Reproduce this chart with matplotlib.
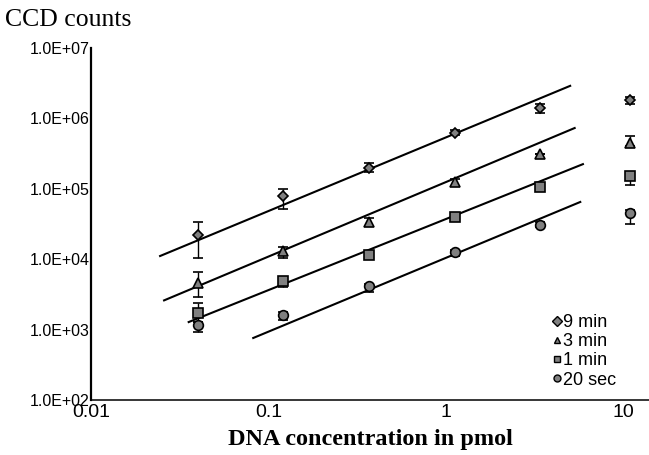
import matplotlib.pyplot as plt
from matplotlib.lines import Line2D

conc = [0.04, 0.12, 0.37, 1.12, 3.4, 10.8]

labels = ["9 min", "3 min", "1 min", "20 sec"]
markers = ["D", "^", "s", "o"]

counts = [
    [2.2e4, 7.9e4, 2.0e5, 6.3e5, 1.4e6, 1.8e6],
    [4.6e3, 1.3e4, 3.4e4, 1.25e5, 3.1e5, 4.5e5],
    [1.7e3, 4.9e3, 1.15e4, 4.0e4, 1.07e5, 1.5e5],
    [1.15e3, 1.6e3, 4.1e3, 1.25e4, 3.1e4, 4.5e4],
]
err_low = [
    [1.05e4, 5.2e4, 1.75e5, 5.9e5, 1.2e6, 1.6e6],
    [2.9e3, 1.05e4, 3.0e4, 1.1e5, 3.1e5, 4.0e5],
    [1.3e3, 4.0e3, 1.05e4, 3.7e4, 1.07e5, 1.15e5],
    [0.92e3, 1.35e3, 3.4e3, 1.1e4, 2.9e4, 3.2e4],
]
err_high = [
    [3.4e4, 1.0e5, 2.3e5, 6.9e5, 1.6e6, 2.0e6],
    [6.6e3, 1.5e4, 3.8e4, 1.4e5, 3.1e5, 5.6e5],
    [2.4e3, 5.4e3, 1.3e4, 4.3e4, 1.1e5, 1.75e5],
    [1.3e3, 1.8e3, 4.5e3, 1.35e4, 3.4e4, 5.0e4],
]

# fitted lines, start and end points
fit_x = [[0.0245, 5.0], [0.0258, 5.3], [0.0355, 5.9], [0.082, 5.7]]
fit_y = [[1.11e4, 2.9e6], [2.6e3, 7.3e5], [1.28e3, 2.24e5], [7.6e2, 6.5e4]]

fig = plt.figure(figsize=(6.49, 4.55), dpi=100)
ax = fig.add_axes([91/649, 1-400/455, 1-91/649, (400-48)/455])

sizes = {"D": 5.5, "^": 7, "s": 6.5, "o": 7}
for i in range(4):
    ax.plot(fit_x[i], fit_y[i], color="black", lw=1.5, zorder=2)
    lo = [c - l for c, l in zip(counts[i], err_low[i])]
    hi = [h - c for c, h in zip(counts[i], err_high[i])]
    ax.errorbar(conc, counts[i], yerr=[lo, hi], fmt="none", ecolor="black",
                elinewidth=1, capsize=3.5, capthick=1.2, zorder=3)
    ax.plot(conc, counts[i], ls="none", marker=markers[i], ms=sizes[markers[i]],
            mfc="#808080", mec="black", mew=1.2, zorder=4)

ax.set_xscale("log")
ax.set_yscale("log")
ax.set_xlim(0.01, 13.9)
ax.set_ylim(1e2, 1e7)
ax.set_xticks([0.01, 0.1, 1, 10])
ax.set_xticklabels(["0.01", "0.1", "1", "10"])
ax.set_yticks([1e2, 1e3, 1e4, 1e5, 1e6, 1e7])
ax.set_yticklabels(["1.0E+02", "1.0E+03", "1.0E+04", "1.0E+05", "1.0E+06", "1.0E+07"])
ax.minorticks_off()
ax.tick_params(axis="y", length=0, pad=1, labelsize=11.5)
ax.tick_params(axis="x", length=0, pad=3, labelsize=14)
for t in ax.get_xticklabels() + ax.get_yticklabels():
    t.set_fontfamily("Liberation Sans")
ax.spines["top"].set_visible(False)
ax.spines["right"].set_visible(False)
ax.spines["left"].set_linewidth(1.6)
ax.spines["bottom"].set_linewidth(1.1)
ax.set_facecolor("none")

ax.set_xlabel("DNA concentration in pmol", fontfamily="Liberation Serif",
              fontweight="bold", fontsize=17.5, labelpad=6)
fig.text(5/649, 1-20/455, "CCD counts", fontfamily="Liberation Serif",
         fontsize=18.5, va="center", ha="left")

handles = [Line2D([], [], ls="none", marker=m, ms=5, mfc="#808080", mec="black", mew=1)
           for m in markers]
ax.legend(handles, labels, loc="upper left", bbox_to_anchor=(543/649, 1-305/455),
          bbox_transform=fig.transFigure, frameon=False, handlelength=0.5,
          handletextpad=0.1, labelspacing=0.12, borderpad=0,
          prop={"family": "Liberation Sans", "size": 13})

fig.savefig("out.png", dpi=100)
